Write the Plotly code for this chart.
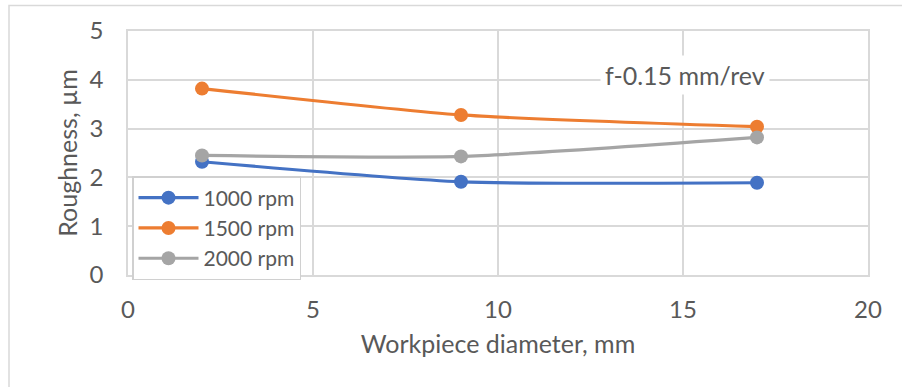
import plotly.graph_objects as go

# Workpiece diameter (mm) and surface roughness (µm) at f = 0.15 mm/rev
diameter = [2, 9, 17]
rough_1000 = [2.32, 1.91, 1.89]
rough_1500 = [3.82, 3.28, 3.04]
rough_2000 = [2.45, 2.43, 2.82]
series_names = ["1000 rpm", "1500 rpm", "2000 rpm"]
series_colors = ["#4472C4", "#ED7D31", "#A5A5A5"]

FONT = "Lato"
TXT = "#595959"
GRID = "#D9D9D9"

fig = go.Figure()
for name, vals, col in zip(series_names, [rough_1000, rough_1500, rough_2000], series_colors):
    fig.add_trace(go.Scatter(
        x=diameter, y=vals, name=name, mode="lines+markers",
        line=dict(color=col, width=3.2, shape="spline", smoothing=0.6),
        marker=dict(color=col, size=14),
    ))

W, H = 902, 387
L, R, T, B = 128, 34, 31, 112
pw, ph = W - L - R, H - T - B

def px(x):
    return (x - L) / pw

def py(y):
    return (H - B - y) / ph

fig.update_layout(
    width=W, height=H,
    margin=dict(l=L, r=R, t=T, b=B),
    paper_bgcolor="white", plot_bgcolor="white",
    font=dict(family=FONT, color=TXT, size=24),
    showlegend=True,
    legend=dict(
        x=px(132), y=py(280), xanchor="left", yanchor="bottom",
        bgcolor="white", bordercolor="#D0D0D0", borderwidth=1.5,
        font=dict(size=21, color=TXT), itemwidth=60,
        tracegroupgap=0,
    ),
    xaxis=dict(
        range=[0, 20], tick0=0, dtick=5, showgrid=True, gridcolor=GRID, gridwidth=1.5,
        zeroline=False, showline=True, linecolor=GRID, linewidth=1.5, mirror=True,
        ticks="", ticklabelstandoff=12,
        tickfont=dict(size=24, color=TXT),
        title=dict(text="Workpiece diameter, mm", font=dict(size=25, color=TXT), standoff=14),
    ),
    yaxis=dict(
        range=[0, 5], tick0=0, dtick=1, showgrid=True, gridcolor=GRID, gridwidth=1.5,
        zeroline=False, showline=True, linecolor=GRID, linewidth=1.5, mirror=True,
        ticks="", ticklabelstandoff=18,
        tickfont=dict(size=24, color=TXT),
        title=dict(text="Roughness, µm", font=dict(size=25, color=TXT), standoff=5),
    ),
    annotations=[dict(
        x=15.05, y=4.1, xref="x", yref="y", text="f-0.15 mm/rev", showarrow=False,
        font=dict(size=25, color=TXT), bgcolor="white", borderpad=4,
    )],
    shapes=[dict(
        type="rect", xref="paper", yref="paper",
        x0=px(9), x1=px(910), y0=py(395), y1=py(5.5),
        line=dict(color="#D9D9D9", width=1.5), fillcolor="rgba(0,0,0,0)", layer="below",
    )],
)

fig.write_html("out.html")
